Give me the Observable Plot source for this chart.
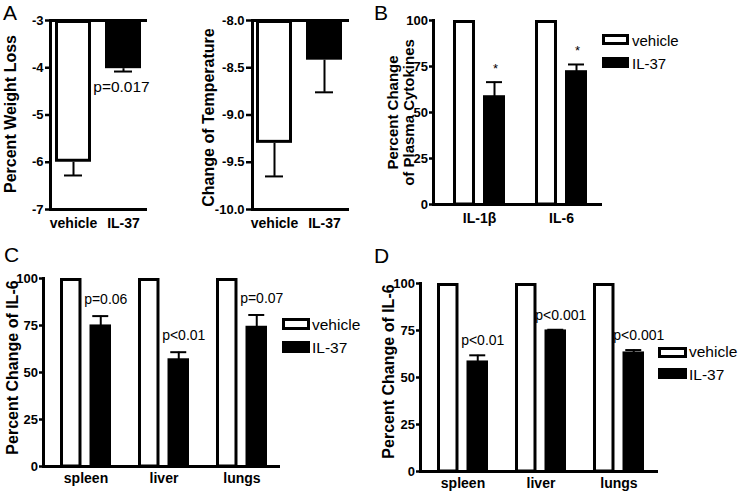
<!DOCTYPE html>
<html><head><meta charset="utf-8">
<script src="https://cdn.jsdelivr.net/npm/d3@7"></script>
<script src="https://cdn.jsdelivr.net/npm/@observablehq/plot@0.6"></script>
<style>
body{margin:0;background:#fff;}
#fig{position:relative;width:741px;height:494px;background:#fff;font-family:"Liberation Sans",Arial,Helvetica,sans-serif;overflow:hidden;color:#000;}
.letter{position:absolute;font-size:21px;line-height:21px;white-space:nowrap;}
.leg{position:absolute;line-height:15px;white-space:nowrap;}
.sw{position:absolute;box-sizing:border-box;border:3px solid #000;}
</style></head><body><div id="fig"></div>
<script>
// ---- data ----
const treatments = ["vehicle", "IL-37"];
const weightLoss = [-6.0, -4.02];
const weightLossErr = [-6.28, -4.08];
const weightTicks = [-3, -4, -5, -6, -7];
const weightNote = "p=0.017";
const temperature = [-9.3, -8.42];
const temperatureErr = [-9.65, -8.76];
const temperatureTicks = [-8, -8.5, -9, -9.5, -10];
const cytokines = ["IL-1β", "IL-6"];
const cytokineVehicle = [100, 100];
const cytokineIL37 = [58.3, 71.9];
const cytokineIL37Err = [66.5, 76.1];
const cytokineMarks = ["*", "*"];
const organs = ["spleen", "liver", "lungs"];
const organVehicleC = [100, 100, 100];
const organIL37C = [74.5, 56.5, 73.8];
const organIL37ErrC = [80, 60.8, 80.6];
const pLabelsC = ["p=0.06", "p<0.01", "p=0.07"];
const organVehicleD = [100, 100, 100];
const organIL37D = [58, 74.5, 62.8];
const organIL37ErrD = [61.8, 75.4, 64.6];
const pLabelsD = ["p<0.01", "p<0.001", "p<0.001"];
const percentTicks = [0, 25, 50, 75, 100];
const legendLabels = ["vehicle", "IL-37"];
const labelB = ["Percent Change", "of Plasma Cytokines"];

const fig = document.getElementById("fig");
const FONT = "Liberation Sans, Arial, Helvetica, sans-serif";
const baseStyle = {fontFamily: FONT, fontSize: "13px", overflow: "visible", background: "transparent", color: "black"};

function place(el, left, top) {
  el.style.position = "absolute";
  el.style.left = left + "px";
  el.style.top = top + "px";
  fig.appendChild(el);
}
function bandwidthOf(domain, lo, hi, pi, po, al) {
  return d3.scaleBand().domain(domain).range([lo, hi]).paddingInner(pi).paddingOuter(po).align(al).bandwidth();
}
function yLabel(text, dx, dy, fs = 16) {
  return Plot.text([text], {text: d => d, frameAnchor: "left", rotate: -90, dx, dy, lineAnchor: "top", textAnchor: "middle",
    fontWeight: "bold", fontSize: fs, fill: "black"});
}

// ---- panel A (two small hanging-bar charts) ----
function hangingPanel(cfg) {
  const data = treatments.map((t, i) => ({t, v: cfg.values[i], e: cfg.errs[i]}));
  const bw = bandwidthOf(treatments, cfg.ml, cfg.W - cfg.mr, cfg.pi, cfg.po, cfg.al);
  const capInset = (bw - 18) / 2;
  const marks = [
    Plot.barY(data.filter(d => d.t === "vehicle"), {x: "t", y1: cfg.top, y2: "v", fill: "white", stroke: "black", strokeWidth: 3, inset: 1.5}),
    Plot.barY(data.filter(d => d.t === "IL-37"), {x: "t", y1: cfg.top, y2: "v", fill: "black", stroke: "black", strokeWidth: 3, inset: 1.5}),
    Plot.ruleX(data, {x: "t", y1: "v", y2: "e", stroke: "black", strokeWidth: 2}),
    Plot.tickY(data, {x: "t", y: "e", stroke: "black", strokeWidth: 2, insetLeft: capInset, insetRight: capInset}),
    Plot.ruleY([cfg.top, cfg.bottom], {stroke: "black", strokeWidth: 3}),
    Plot.frame({anchor: "left", stroke: "black", strokeWidth: 3}),
    Plot.axisY({ticks: cfg.ticks, tickFormat: cfg.fmt, tickSize: cfg.tickSize, tickPadding: cfg.tickPad, strokeWidth: 2.5,
      fontWeight: "bold", fontSize: 13, label: null}),
    Plot.axisX({tickSize: 0, tickPadding: 9, fontWeight: "bold", fontSize: 14, label: null}),
    yLabel(cfg.label, cfg.ldx, cfg.ldy)
  ];
  if (cfg.note) marks.push(Plot.text(data.filter(d => d.t === "IL-37"), {x: "t", y: "e", text: () => cfg.note, dy: 20, dx: -2, lineAnchor: "bottom", fontSize: 15.5, fill: "black"}));
  const p = Plot.plot({
    width: cfg.W, height: cfg.H, marginLeft: cfg.ml, marginRight: cfg.mr, marginTop: cfg.mt, marginBottom: cfg.mb,
    style: baseStyle,
    x: {domain: treatments, paddingInner: cfg.pi, paddingOuter: cfg.po, align: cfg.al},
    y: {domain: [cfg.bottom, cfg.top]},
    marks
  });
  place(p, cfg.left, cfg.topPx);
}

hangingPanel({left: 0, topPx: 0, W: 185, H: 250, ml: 50, mr: 38, mt: 20, mb: 41, pi: 0.28, po: 0.11, al: 0.45,
  values: weightLoss, errs: weightLossErr, top: -3, bottom: -7, ticks: weightTicks, fmt: d => String(d),
  tickSize: 5, tickPad: 2, label: "Percent Weight Loss", ldx: -46, ldy: -1, note: weightNote});
hangingPanel({left: 185, topPx: 0, W: 185, H: 250, ml: 67, mr: 21, mt: 20, mb: 41, pi: 0.287, po: 0.104, al: 0.38,
  values: temperature, errs: temperatureErr, top: -8, bottom: -10, ticks: temperatureTicks, fmt: d => d.toFixed(1),
  tickSize: 6, tickPad: 2, label: "Change of Temperature", ldx: -50, ldy: 2.5});

// ---- grouped panels (B, C, D) ----
function groupedPanel(cfg) {
  const data = cfg.groups.map((g, i) => ({g, veh: cfg.veh[i], v: cfg.vals[i], e: cfg.errs[i], n: cfg.notes[i]}));
  const bw = bandwidthOf(cfg.groups, cfg.ml, cfg.W - cfg.mr, cfg.pi, cfg.po, cfg.al);
  const gap = 4;
  const il37Off = bw / 4 + gap / 2;
  const marks = [
    Plot.barY(data, {x: "g", y: "veh", fill: "white", stroke: "black", strokeWidth: 3, insetLeft: 1.5, insetRight: bw / 2 + gap + 1.5, insetTop: 1.5}),
    Plot.barY(data, {x: "g", y: "v", fill: "black", stroke: "black", strokeWidth: 3, insetLeft: bw / 2 + gap + 1.5, insetRight: 1.5}),
    Plot.ruleX(data, {x: "g", y1: "v", y2: "e", dx: il37Off, stroke: "black", strokeWidth: 2}),
    Plot.tickY(data, {x: "g", y: "e", stroke: "black", strokeWidth: 2, insetLeft: bw / 2 + il37Off - 8, insetRight: bw / 2 - il37Off - 8}),
    Plot.text(data, {x: "g", y: "e", text: "n", dx: il37Off + cfg.ndx, dy: cfg.ndy, lineAnchor: "bottom", fontSize: cfg.nfs, fill: "black"}),
    Plot.ruleY([0], {stroke: "black", strokeWidth: 3}),
    Plot.frame({anchor: "left", stroke: "black", strokeWidth: 3}),
    Plot.axisY({ticks: percentTicks, tickFormat: d => String(d), tickSize: 4, tickPadding: 1.5, strokeWidth: 2.5,
      fontWeight: "bold", fontSize: 13, label: null}),
    Plot.axisX({tickSize: 0, tickPadding: cfg.xpad, fontWeight: "bold", fontSize: 14, label: null}),
    ...cfg.labels.map((lab, i) => yLabel(lab, cfg.ldx[i], cfg.ldy, cfg.lfs))
  ];
  const p = Plot.plot({
    width: cfg.W, height: cfg.H, marginLeft: cfg.ml, marginRight: cfg.mr, marginTop: cfg.mt, marginBottom: cfg.mb,
    style: baseStyle,
    x: {domain: cfg.groups, paddingInner: cfg.pi, paddingOuter: cfg.po, align: cfg.al},
    y: {domain: [0, 100]},
    marks
  });
  place(p, cfg.left, cfg.top);
}

groupedPanel({left: 370, top: 0, W: 371, H: 250, ml: 63, mr: 139, mt: 20, mb: 46, pi: 0.366, po: 0.213, al: 0.571,
  groups: cytokines, veh: cytokineVehicle, vals: cytokineIL37, errs: cytokineIL37Err, notes: cytokineMarks,
  ndx: 1, ndy: -9, nfs: 13, xpad: 9, labels: labelB, ldx: [-46, -30], ldy: 0, lfs: 15});
groupedPanel({left: 0, top: 250, W: 370, H: 244, ml: 43, mr: 90, mt: 28, mb: 28, pi: 0.346, po: 0.192, al: 0.567,
  groups: organs, veh: organVehicleC, vals: organIL37C, errs: organIL37ErrC, notes: pLabelsC,
  ndx: 5, ndy: -12, nfs: 14, xpad: 7, labels: ["Percent Change of IL-6"], ldx: [-37], ldy: -5, lfs: 16});
groupedPanel({left: 370, top: 250, W: 371, H: 244, ml: 50, mr: 83, mt: 33, mb: 23, pi: 0.348, po: 0.195, al: 0.557,
  groups: organs, veh: organVehicleD, vals: organIL37D, errs: organIL37ErrD, notes: pLabelsD,
  ndx: 5, ndy: -10, nfs: 14, xpad: 7, labels: ["Percent Change of IL-6"], ldx: [-38], ldy: -6, lfs: 16});

// ---- legends ----
function legend(x, boxW, tops, boxH, textX, textTops, fs) {
  legendLabels.forEach((lab, i) => {
    const sw = document.createElement("div");
    sw.className = "sw";
    sw.style.width = boxW + "px";
    sw.style.height = boxH + "px";
    sw.style.background = i === 0 ? "#fff" : "#000";
    place(sw, x, tops[i]);
    const t = document.createElement("div");
    t.className = "leg";
    t.style.fontSize = fs + "px";
    t.textContent = lab;
    place(t, textX, textTops[i]);
  });
}
legend(602, 27, [34, 57], 11, 632, [33.3, 55.6], 15);
legend(282, 28, [318, 341], 12, 312, [317.3, 340.3], 15.5);
legend(658, 29, [347, 368], 11, 689, [344.3, 367.3], 15.5);

// ---- panel letters ----
[["A", 3, 2], ["B", 374, 2], ["C", 4, 244], ["D", 374, 245]].forEach(([s, x, y]) => {
  const d = document.createElement("div");
  d.className = "letter";
  d.textContent = s;
  place(d, x, y);
});
</script></body></html>
